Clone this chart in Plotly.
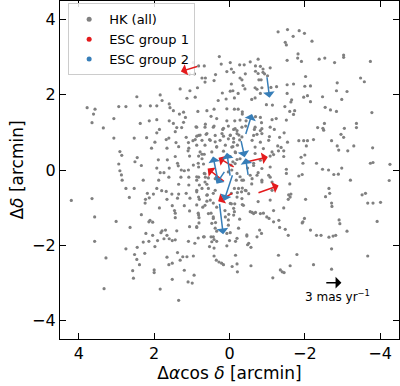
import plotly.graph_objects as go

# ---- HK (all) member positions [arcmin] ----
hk_x = [
    0.27, 0.96, 0.82, 0.67, 0.22, 0.07, 1.18, 1.06, 0.93, 0.73, 0.64, 0.41, 0.37, 0.65, 0.85, 1.05, 1.31, 1.13, 0.91, 1.84,
    1.79, 2.46, 0.19, 0.09, 0.30, 1.60, 2.10, 1.93, 1.58, 2.37, 2.94, 2.75, 3.78, 3.57, 1.49, 0.84, 0.60, 0.41, 0.07, 1.22,
    -1.29, -1.54, -1.85, -1.99, -1.69, -1.48, -1.51, -2.19, -1.82, -1.81, -1.91, -1.53, -2.38, -2.53, -2.79, -3.03, -3.03, -3.74, -0.76, -0.55,
    -0.27, -0.39, -0.02, -0.69, -0.82, -0.89, -1.08, -0.69, -0.76, -0.89, -0.93, -1.01, -0.42, -0.05, -0.11, -0.28, -0.33, -0.78, -0.84, -0.05,
    -0.36, -0.41, -0.68, -0.73, -0.86, -0.82, -1.10, -1.25, -1.53, -1.70, -2.02, -2.00, -2.15, -1.53, -0.09, -0.02, -0.23, -0.13, -0.59, -0.68,
    -0.98, -1.14, -1.65, -1.63, -1.47, -1.60, -1.73, -1.97, -2.07, -2.15, -2.47, -2.54, -2.68, -2.84, -2.86, -2.98, -3.12, -2.84, -3.48, -3.58,
    -3.78, -0.13, -0.23, -0.34,
    3.61, 3.07, 3.65, 3.35, 3.07, 2.37, 2.13, 1.93, 1.60, 1.49, 1.33, 1.17, 1.22, 1.40, 1.27, 1.86, 1.93, 1.44, 0.89, 0.64,
    0.41, 0.18, 0.49, 0.34, 0.07, 0.16, 2.53, 2.20, 1.68, 1.61, 1.15, 0.87, 0.78, 0.91, 0.97, 0.62, 0.53, 0.38, 0.34, 1.98,
    1.42, 1.09, 1.35, 1.08, 1.10, 1.66, 2.07, 2.91, 2.86, 2.45, 2.51, 2.34, 2.94, 1.89, 1.65, 1.44, 1.38, 1.36, 1.06, 0.82,
    0.73, 0.67, 0.96, 0.83, 0.69, 1.93, 1.84, 1.74, 1.60, 1.28, 1.20, 1.09, 2.91, 2.87, 2.85, 2.29, 1.88, 1.61, 1.29, 1.08,
    0.87, 0.67, 0.64, 1.35, 1.08, 0.80, 0.60, 2.75, 2.53, 1.93, 1.80, 1.68, 2.18, 2.02, 1.53, 1.35, 1.15, 0.87, 0.59, 0.43,
    2.66, 2.23, 2.13, 1.66, 1.38, 1.05, 0.80, 0.60, 0.43, 4.20, 3.65, 2.24, 1.86, 1.52, 1.46, 1.20, 0.87, 0.71, 0.34, 1.44,
    1.06, 2.34, 3.58, 3.01, 2.11, 2.14, 2.04, 1.44, 0.83, 0.81, 0.81, 0.49, 0.43, 0.37, 0.02, 0.12,
    -0.34, -0.14, -0.28, -0.44, -0.43, -0.11, -0.20, -0.02, -0.25, -0.11, -0.27, -0.21, -0.09, -0.16, -0.02, -0.20, -0.69, -0.82, -0.85, -0.66,
    -0.73, -0.82, -1.13, -1.24, -1.51, -1.70, -1.33, -1.45, -1.54, -1.28, -1.37, -1.30, -1.44, -1.44, -1.08, -1.17, -1.84, -1.97, -2.07, -2.04,
    -2.23, -1.90, -2.00, -1.95, -2.34, -2.48, -2.52, -2.50, -3.05, -2.96, -3.03, -3.37, -3.37, -2.71, -2.86, -2.90, -3.14, -3.30, -3.80, -3.74,
    -3.81, -4.26, -2.31, -2.47, -2.63, -2.89, -2.98, -2.77, -1.51, -1.51, -1.84, -1.93, -1.60, -1.57, -1.63, -1.61, -1.56, -2.02, -2.55, -2.66,
    -2.64, -2.71, -2.72, -3.21, -3.52, -3.61, -3.67, -3.81, -4.01, -4.24, -3.92, -2.91, -2.93, -1.95, -1.93, -1.99, -1.44, -1.17, -0.90, -1.05,
    -1.31, -0.69, -0.60, -0.76, -0.34, -0.14, -0.05, -0.11, -0.13, -0.11, -0.27, -0.44, -0.32, -0.21, -0.34, -0.13, -0.05, -0.59, -0.37, -0.28,
    -0.20, -0.06, -0.18, -0.55, -0.76, -0.48, -0.64, -0.09, -0.04, -1.06, -1.19,
    2.64, 2.22, 2.04, 1.82, 1.79, 1.70, 1.74, 1.66, 1.60, 1.52, 1.44, 1.40, 1.06, 0.87, 1.09, 0.92, 0.83, 0.67, 0.49, 0.34,
    0.34, 0.41, 0.53, 0.41, 0.07, 0.00, 3.58, 2.75, 2.45, 2.29, 2.14, 1.91, 1.98, 2.52, 2.25, 2.46, 2.39, 3.28, 2.57, 2.55,
    2.00, 2.00, 1.66, 1.61, 1.52, 1.38, 1.31, 1.24, 1.13, 0.96, 1.20, 0.94, 1.52, 1.10, 0.99, 1.84, 3.33, 1.35, 0.41, 0.35,
    0.28, 0.21, 0.16,
    -0.02, -0.16, -0.46, -0.48, -0.57, -0.80, -0.85, -1.33, -1.48, -1.56, -2.15, -2.31, -2.43, -2.64, -2.75, -2.82, -3.12, -2.71, -0.16, -0.07,
    -0.20, -0.21, -0.57, -1.30, -1.79, -1.61, -1.35, -1.40, -1.45, -1.15, -2.23, -2.71, -3.67,
    0.87, 0.65, 0.43, 0.16, 0.03, -0.15, -0.33, -0.68, -0.86, -1.08, 0.82, 0.60, 0.38, 0.20, -0.02, -0.20, -0.33, -0.64, -0.86, 0.73,
    0.51, 0.25, 0.03, -0.11, -0.60, -0.82, -1.04, 0.87, 0.65, 0.34, 0.11, -0.06, -0.68, -0.90, 0.78, 0.47, 0.16, -0.15, -0.68, -1.13,
    0.73, -0.28, -0.82, 0.82, -0.15, -0.64, -0.86, -1.08, 0.65, 0.03, -0.73, -1.04, 0.87, 0.38, -0.33, -0.86, -1.13,
    0.82, 0.56, 0.65, -0.60, -0.86, -1.08, 0.87, 0.73, 0.56, 0.38, -0.24, -0.42, -0.51, -1.13, 0.82, 0.60, 0.51, -0.20, -0.33, 0.65,
    -0.02, -0.37, -1.08, 0.82, 0.56, 0.43, 0.11, 0.03, -0.55, -0.64, -0.82, -0.99, 0.87, 0.47, 0.38, 0.03, -0.24, -1.17, 0.69, 0.43,
    0.07, -0.20, -0.46, -0.73, 0.47, -0.51,
]
hk_y = [
    3.02, 2.86, 2.77, 2.77, 2.82, 2.62, 2.57, 2.56, 2.56, 2.45, 2.45, 2.38, 2.54, 2.34, 2.19, 2.11, 2.16, 1.91, 1.94, 2.00,
    1.85, 1.95, 2.05, 1.89, 1.85, 1.76, 1.71, 1.71, 1.66, 1.71, 1.69, 1.69, 1.66, 1.62, 1.58, 1.56, 1.58, 1.62, 1.63, 1.54,
    3.68, 3.74, 3.71, 3.64, 3.56, 3.40, 3.33, 3.43, 3.09, 2.98, 2.89, 2.92, 2.95, 2.98, 2.86, 3.06, 3.00, 2.89, 2.95, 2.88,
    2.80, 2.80, 2.86, 2.77, 2.76, 2.69, 2.72, 2.63, 2.57, 2.60, 2.56, 2.51, 2.56, 2.69, 2.60, 2.45, 2.40, 2.40, 2.40, 2.29,
    2.25, 2.16, 2.19, 2.15, 2.19, 2.04, 2.20, 2.22, 2.27, 2.29, 2.49, 2.23, 2.24, 2.04, 2.11, 2.10, 2.04, 1.92, 1.88, 1.92,
    1.74, 1.73, 1.87, 1.81, 1.69, 1.56, 1.58, 1.94, 1.98, 1.82, 1.95, 1.67, 1.60, 1.56, 2.32, 1.88, 2.09, 2.11, 2.45, 2.35,
    1.53, 1.62, 1.62, 1.55,
    1.49, 1.37, 1.26, 1.12, 0.85, 1.24, 1.31, 1.34, 1.31, 1.24, 1.49, 1.40, 1.27, 1.13, 1.13, 1.08, 0.99, 1.02, 1.15, 1.22,
    1.17, 1.08, 1.43, 1.37, 1.31, 0.90, 0.85, 0.86, 0.81, 0.85, 0.87, 0.90, 0.93, 0.81, 0.78, 0.95, 0.81, 0.75, 0.62, 0.74,
    0.73, 0.73, 0.62, 0.58, 0.51, 0.58, 0.58, 0.49, 0.39, 0.33, 0.22, 0.12, 0.16, 0.27, 0.27, 0.36, 0.18, 0.11, 0.37, 0.37,
    0.42, 0.42, 0.13, 0.18, 0.16, 0.05, -0.07, -0.07, 0.05, 0.00, -0.02, 0.00, -0.02, -0.13, -0.27, -0.27, -0.27, -0.19, -0.19, -0.19,
    -0.18, -0.09, -0.19, -0.38, -0.40, -0.40, -0.38, -0.49, -0.49, -0.49, -0.55, -0.57, -0.62, -0.64, -0.64, -0.64, -0.62, -0.58, -0.66, -0.62,
    -0.73, -0.78, -0.74, -0.78, -0.75, -0.75, -0.78, -0.83, -0.88, -0.81, -0.76, -0.88, -1.01, -0.95, -1.08, -0.95, -0.93, -0.99, -0.99, -1.15,
    -1.09, -1.19, -1.25, -1.37, -1.34, -1.38, -1.39, -1.27, -1.15, -1.27, -1.41, -1.15, -1.29, -1.40, -1.18, -1.08,
    1.49, 1.31, 1.33, 1.31, 1.17, 1.08, 1.05, 0.93, 0.93, 0.84, 0.80, 0.66, 0.62, 0.46, 0.36, 0.28, 1.42, 1.40, 1.26, 1.08,
    0.95, 1.05, 1.34, 1.37, 1.33, 1.48, 0.87, 0.99, 0.74, 0.64, 0.60, 0.51, 0.51, 0.36, 0.37, 0.41, 0.78, 0.78, 0.78, 0.64,
    0.81, 0.34, 0.40, 0.18, 1.13, 1.11, 1.24, 1.06, 1.11, 0.95, 0.87, 1.24, 1.13, 0.78, 0.64, 0.53, 0.51, 0.64, 0.59, 0.18,
    0.20, 0.15, 0.18, 0.02, 0.00, -0.11, 0.05, -0.12, 0.02, -0.09, -0.16, -0.12, -0.37, -0.66, -0.64, -0.72, -0.78, -0.78, -0.71, -0.62,
    -0.49, -0.88, -0.97, -0.27, -0.66, -0.62, -0.88, -0.88, -0.86, -0.28, -1.37, -1.33, -1.43, -1.38, -1.41, -1.29, -1.01, -1.08, -1.15, -1.29,
    -1.34, -1.13, -1.13, -0.84, -0.92, -0.90, -0.90, -1.02, -1.11, -1.20, -1.31, -0.55, -0.58, -0.60, -0.48, -0.49, -0.62, -0.37, -0.27, -0.18,
    -0.09, 0.00, -0.27, -0.14, -0.07, 0.05, 0.18, 0.22, 0.13, 0.89, 1.08,
    -1.53, -1.69, -1.74, -1.67, -1.62, -1.60, -1.83, -1.74, -1.83, -1.88, -1.86, -1.62, -1.51, -1.53, -1.90, -1.95, -1.81, -1.78, -1.78, -1.63,
    -1.90, -1.85, -2.04, -2.08, -2.02, -1.88, -1.90, -2.10, -2.06, -1.92, -1.90, -1.88, -2.04, -2.25, -2.22, -2.38, -2.52, -2.34, -2.68, -2.88,
    -2.66, -2.73, -2.32, -2.52, -2.48, -2.20, -2.40, -2.31, -2.31, -2.29, -2.67, -2.80, -2.91, -2.98, -3.01, -3.17, -3.16, -3.47, -2.29, -2.40,
    -2.45, -2.48, -2.52,
    -1.67, -1.90, -1.76, -1.99, -2.06, -1.60, -1.69, -1.53, -1.58, -1.74, -1.60, -1.74, -1.74, -1.79, -1.76, -1.74, -1.63, -2.10, -2.27, -2.57,
    -2.50, -2.71, -2.55, -2.27, -2.25, -2.55, -2.66, -2.71, -2.73, -2.87, -2.52, -2.64, -2.29,
    1.14, 1.14, 1.14, 1.11, 1.17, 1.10, 1.14, 1.14, 1.10, 1.14, 0.92, 0.97, 0.92, 0.97, 0.92, 0.97, 0.88, 0.92, 0.97, 0.79,
    0.79, 0.79, 0.83, 0.74, 0.79, 0.74, 0.79, 0.66, 0.66, 0.61, 0.66, 0.61, 0.61, 0.57, 0.48, 0.48, 0.50, 0.48, 0.44, 0.48,
    0.30, 0.30, 0.26, 0.08, 0.17, 0.12, 0.04, 0.08, -0.10, -0.05, -0.14, -0.14, -0.27, -0.23, -0.27, -0.32, -0.32,
    -0.19, -0.21, -0.32, -0.23, -0.27, -0.19, -0.54, -0.49, -0.49, -0.54, -0.49, -0.54, -0.63, -0.54, -0.72, -0.67, -0.80, -0.72, -0.76, -0.94,
    -0.89, -0.94, -0.80, -1.20, -1.16, -1.25, -1.25, -1.33, -1.11, -1.16, -1.16, -1.25, -1.51, -1.42, -1.55, -1.47, -1.55, -1.38, -1.78, -1.78,
    -1.69, -1.82, -1.73, -1.78, -1.91, -1.95,
]

# ---- ESC group 1 (red): positions [arcmin] and proper motions [mas/yr] ----
esc1_x = [0.82, -0.37, -0.73, -0.15, 0.11, -0.11]
esc1_y = [2.77, 0.20, -0.62, 0.06, -0.33, -0.60]
esc1_pmx = [3.2, -4.4, -3.9, 3.0, 3.2, 2.8]
esc1_pmy = [-1.0, 1.0, 1.4, 1.8, 2.5, -1.6]

# ---- ESC group 2 (blue) ----
esc2_x = [0.29, -0.02, 0.11, -0.09, 0.27, -0.30, -0.50, -0.42, -0.99]
esc2_y = [-0.36, -0.19, -0.01, -0.10, -0.86, 0.81, -0.17, 0.92, 2.51]
esc2_pmx = [1.0, 0.6, 1.6, 1.6, -0.7, -0.7, 0.5, -1.2, -0.5]
esc2_pmy = [4.9, 4.4, -2.4, -4.9, -5.8, -3.2, 3.3, 3.9, -4.0]

# ---- reference arrow ----
ref_x, ref_y = -2.53, -3.0
ref_pm = 3.0
ref_label = "3 mas yr<sup>−1</sup>"
ref_label_x, ref_label_y = -2.88, -3.36

scale = 0.147  # arcmin per (mas/yr) in the quiver

gray = "#808080"
red = "#e41a1c"
blue = "#377eb8"

fig = go.Figure()
fig.add_trace(go.Scatter(x=hk_x, y=hk_y, mode="markers",
                         marker=dict(size=3.2, color=gray), showlegend=False, hoverinfo="skip"))
for name, col in [("HK (all)", gray), ("ESC group 1", red), ("ESC group 2", blue)]:
    fig.add_trace(go.Scatter(x=[None], y=[None], mode="markers", name=name,
                             marker=dict(size=5, color=col)))

annotations = []
def add_arrow(x0, y0, pmx, pmy, col):
    annotations.append(dict(
        x=x0 + scale * pmx, y=y0 + scale * pmy, ax=x0, ay=y0,
        xref="x", yref="y", axref="x", ayref="y",
        text="", showarrow=True, arrowhead=1, arrowsize=1.3, arrowwidth=1.5,
        arrowcolor=col, standoff=0, startstandoff=0))

for x0, y0, px, py in zip(esc1_x, esc1_y, esc1_pmx, esc1_pmy):
    add_arrow(x0, y0, px, py, red)
for x0, y0, px, py in zip(esc2_x, esc2_y, esc2_pmx, esc2_pmy):
    add_arrow(x0, y0, px, py, blue)
add_arrow(ref_x, ref_y, -ref_pm, 0.0, "black")
annotations.append(dict(x=ref_label_x, y=ref_label_y, xref="x", yref="y",
                        text=ref_label, showarrow=False,
                        font=dict(size=12, color="black", family="DejaVu Sans")))

axis_common = dict(
    showline=True, linecolor="black", linewidth=1.2, mirror="ticks",
    ticks="inside", ticklen=6, tickwidth=1.2, tickcolor="black",
    showgrid=False, zeroline=False, dtick=2, automargin=False,
    tickfont=dict(size=16, color="black", family="DejaVu Sans"),
)

fig.update_layout(
    width=400, height=386,
    margin=dict(l=60, r=1, t=1, b=47),
    plot_bgcolor="white", paper_bgcolor="white",
    font=dict(family="DejaVu Sans", color="black"),
    xaxis=dict(range=[4.5, -4.5], tick0=0,
               title=dict(text="Δ<i>α</i>cos <i>δ</i> [arcmin]", font=dict(size=17), standoff=2),
               **axis_common),
    yaxis=dict(range=[-4.5, 4.5], tick0=0,
               title=dict(text="Δ<i>δ</i> [arcmin]", font=dict(size=17), standoff=4),
               **axis_common),
    legend=dict(x=0.024, y=0.993, xanchor="left", yanchor="top",
                bgcolor="rgba(255,255,255,0.85)", bordercolor="#cccccc", borderwidth=1,
                font=dict(size=13, color="black"), tracegroupgap=0, itemwidth=30),
    annotations=annotations,
)

fig.write_html("out.html", config={"displayModeBar": False},
               post_script="document.body.style.margin='0';")
